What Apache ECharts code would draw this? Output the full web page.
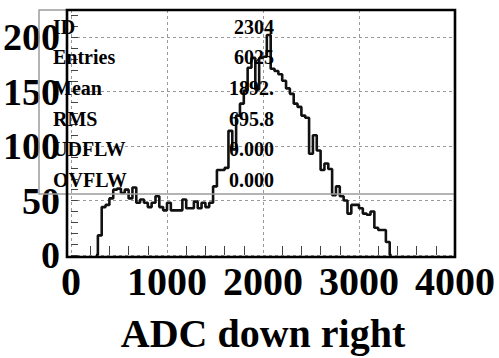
<!DOCTYPE html>
<html>
<head>
<meta charset="utf-8">
<script src="https://cdn.jsdelivr.net/npm/echarts@6/dist/echarts.min.js"></script>
<style>
  html, body { margin: 0; padding: 0; background: #fff; }
  #chart { width: 499px; height: 358px; }
</style>
</head>
<body>
<div id="chart"></div>
<script>
// ADC histogram, 40-count wide bins: bin centres and entries per bin
const adcBins = [300, 340, 380, 420, 460, 500, 540, 580, 620, 660,
  700, 740, 780, 820, 860, 900, 940, 980, 1020, 1060,
  1100, 1140, 1180, 1220, 1260, 1300, 1340, 1380, 1420, 1460,
  1500, 1540, 1580, 1620, 1660, 1700, 1740, 1780, 1820, 1860,
  1900, 1940, 1980, 2020, 2060, 2100, 2140, 2180, 2220, 2260,
  2300, 2340, 2380, 2420, 2460, 2500, 2540, 2580, 2620, 2660,
  2700, 2740, 2780, 2820, 2860, 2900, 2940, 2980, 3020, 3060,
  3100, 3140, 3180, 3220, 3260, 3300];
const counts = [18, 44, 46, 52, 60, 61, 57, 60, 52, 62,
  48, 51, 48, 44, 48, 54, 44, 41, 48, 41,
  41, 41, 51, 43, 43, 49, 43, 48, 44, 48,
  63, 78, 78, 80, 114, 97, 128, 139, 151, 172,
  181, 152, 181, 182, 202, 171, 169, 166, 160, 153,
  148, 139, 136, 128, 126, 93, 110, 96, 78, 84,
  79, 55, 63, 54, 50, 38, 46, 46, 43, 38,
  37, 40, 25, 23, 23, 12];

const xTickValues = [0, 1000, 2000, 3000, 4000];
const yTickValues = [0, 50, 100, 150, 200];
const statLabels = ['ID', 'Entries', 'Mean', 'RMS', 'UDFLW', 'OVFLW'];
const statValues = ['2304', '6025', '1892.', '695.8', '0.000', '0.000'];
const xTitle = 'ADC down right';

const SERIF = "'Liberation Serif', 'Times New Roman', serif";
const binWidth = adcBins[1] - adcBins[0];

// Step outline; an empty bin on each side lets the outline fall back to zero.
const outline = [[adcBins[0] - binWidth, 0]]
  .concat(adcBins.map((x, i) => [x, counts[i]]))
  .concat([[adcBins[adcBins.length - 1] + binWidth, 0]]);

const grid = { left: 67, top: 10, width: 388, height: 247 };

const chart = echarts.init(document.getElementById('chart'), null, { renderer: 'svg' });

const gridLine = { show: true, lineStyle: { color: '#9a9a9a', width: 1, type: [3, 3] } };

// statistics box text rows
const statText = [];
statLabels.forEach((label, i) => {
  const y = 26.5 + 30.7 * i;
  statText.push({
    type: 'text', z: 50,
    style: { text: label, x: 53, y: y, fill: '#000',
      font: 'bold 20px ' + SERIF, textAlign: 'left', textVerticalAlign: 'middle' }
  });
  statText.push({
    type: 'text', z: 50,
    style: { text: statValues[i], x: 274, y: y, fill: '#000',
      font: 'bold 20px ' + SERIF, textAlign: 'right', textVerticalAlign: 'middle' }
  });
});

chart.setOption({
  animation: false,
  backgroundColor: '#fff',
  grid: grid,
  xAxis: [{
    type: 'value', min: 0, max: 4000, interval: 1000,
    axisLine: { show: false },
    axisTick: { show: false },
    minorTick: { show: true, splitNumber: 5, length: -9, lineStyle: { color: '#444', width: 1 } },
    splitLine: gridLine,
    axisLabel: {
      margin: 6, color: '#000', fontFamily: SERIF, fontWeight: 'bold', fontSize: 40,
      formatter: v => (xTickValues.indexOf(v) >= 0 ? String(v) : '')
    },
    name: xTitle, nameLocation: 'middle', nameGap: 58,
    nameTextStyle: { color: '#000', fontFamily: SERIF, fontWeight: 'bold', fontSize: 40 }
  }],
  yAxis: [{
    type: 'value', min: 0, max: 225, interval: 50,
    axisLine: { show: false },
    axisTick: { show: false },
    splitLine: gridLine,
    axisLabel: {
      margin: 11, color: '#000', fontFamily: SERIF, fontWeight: 'bold', fontSize: 38,
      showMaxLabel: false, padding: [0, 0, 6, 0],
      formatter: v => (yTickValues.indexOf(v) >= 0 ? String(v) : '')
    }
  }, {
    // fine ticks every 10 entries along the left edge
    type: 'value', min: 0, max: 225, interval: 10, position: 'left',
    axisLine: { show: false },
    axisTick: { show: true, inside: true, length: 7, lineStyle: { color: '#444', width: 1 } },
    splitLine: { show: false },
    axisLabel: { show: false }
  }],
  series: [{
    type: 'line', step: 'middle', data: outline,
    showSymbol: false, symbol: 'none',
    lineStyle: { color: '#111', width: 2.6 },
    z: 10
  }],
  graphic: [
    {
      type: 'rect', z: 40, silent: true,
      shape: { x: 39, y: 10, width: 416, height: 184 },
      style: { fill: 'none', stroke: '#9c9c9c', lineWidth: 1.5 }
    },
    {
      type: 'rect', z: 60, silent: true,
      shape: { x: grid.left, y: grid.top, width: grid.width, height: grid.height },
      style: { fill: 'none', stroke: '#000', lineWidth: 2.6 }
    }
  ].concat(statText)
});
</script>
</body>
</html>
